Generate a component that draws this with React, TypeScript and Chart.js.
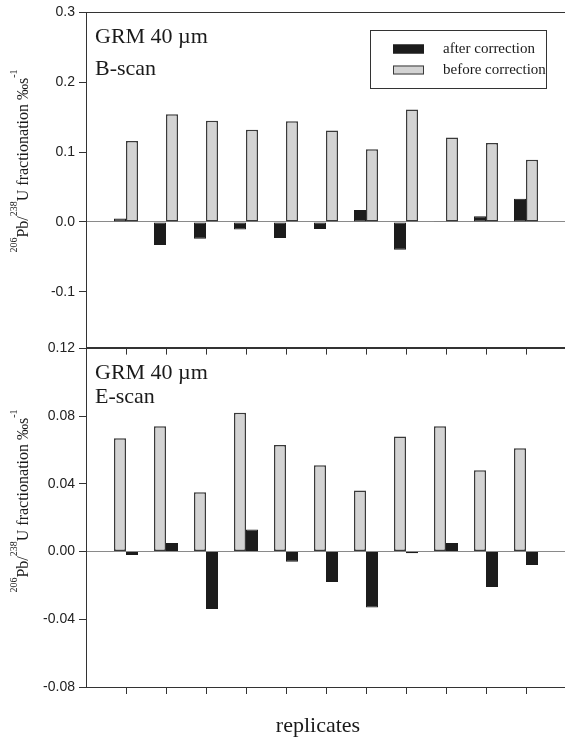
import React, { useEffect, useRef } from "react";
import { Chart, registerables } from "chart.js";

Chart.register(...registerables);

const replicates = [1, 2, 3, 4, 5, 6, 7, 8, 9, 10, 11];
const bScanAfter = [0.005, -0.033, -0.024, -0.011, -0.023, -0.010, 0.017, -0.040, 0.001, 0.008, 0.033];
const bScanBefore = [0.116, 0.154, 0.145, 0.132, 0.144, 0.131, 0.104, 0.161, 0.121, 0.113, 0.089];
const eScanBefore = [0.067, 0.074, 0.035, 0.082, 0.063, 0.051, 0.036, 0.068, 0.074, 0.048, 0.061];
const eScanAfter = [-0.002, 0.005, -0.034, 0.013, -0.006, -0.018, -0.033, -0.001, 0.005, -0.021, -0.008];
const bScanTicks = [-0.1, 0, 0.1, 0.2, 0.3];
const eScanTicks = [-0.08, -0.04, 0, 0.04, 0.08, 0.12];
const seriesLabels = ["after correction", "before correction"];

const SERIF = '"Liberation Serif", "Times New Roman", serif';
const SANS = '"Liberation Sans", Arial, sans-serif';
const BLACK = "#1c1c1c";
const GREY = "#d3d3d3";
const EDGE = "#3a3a3a";

const decorPlugin = {
  id: "decor",
  afterDraw(chart: any, _args: any, opts: any) {
    const ctx = chart.ctx as CanvasRenderingContext2D;
    ctx.save();
    ctx.fillStyle = "#1a1a1a";
    ctx.textBaseline = "alphabetic";
    for (const t of opts.texts || []) {
      ctx.font = t.font;
      ctx.textAlign = t.align || "left";
      ctx.fillText(t.text, t.x, t.y);
    }
    // rotated y title with superscripts
    if (opts.yTitleY != null) {
      const parts = [
        { t: "206", sup: true },
        { t: "Pb/", sup: false },
        { t: "238", sup: true },
        { t: "U fractionation \u2030s", sup: false },
        { t: "-1", sup: true },
      ];
      const mainFont = `16px ${SERIF}`;
      const supFont = `10px ${SERIF}`;
      let total = 0;
      const widths = parts.map((p) => {
        ctx.font = p.sup ? supFont : mainFont;
        const w = ctx.measureText(p.t).width;
        total += w;
        return w;
      });
      ctx.save();
      ctx.translate(28, opts.yTitleY);
      ctx.rotate(-Math.PI / 2);
      ctx.textAlign = "left";
      let x = -total / 2;
      parts.forEach((p, i) => {
        ctx.font = p.sup ? supFont : mainFont;
        ctx.fillText(p.t, x, p.sup ? -11 : 0);
        x += widths[i];
      });
      ctx.restore();
    }
    if (opts.legend) {
      const ds = chart.data.datasets;
      ctx.strokeStyle = "#333";
      ctx.lineWidth = 1;
      ctx.strokeRect(370.5, 30.5, 176, 58);
      const rows = [49, 70];
      ds.forEach((d: any, i: number) => {
        const cy = rows[i];
        ctx.fillStyle = d.backgroundColor;
        ctx.fillRect(393, cy - 4.5, 31, 9);
        ctx.strokeStyle = d.borderColor;
        ctx.strokeRect(393.5, cy - 4, 30, 8);
        ctx.fillStyle = "#1a1a1a";
        ctx.font = `15px ${SERIF}`;
        ctx.textAlign = "left";
        ctx.textBaseline = "middle";
        ctx.fillText(d.label, 443, cy);
      });
    }
    ctx.restore();
  },
};

function toPoints(arr: number[]) {
  return replicates.map((x, i) => ({ x, y: arr[i] }));
}

function makeDataset(label: string, values: number[], black: boolean) {
  return {
    label,
    data: toPoints(values),
    backgroundColor: black ? BLACK : GREY,
    borderColor: black ? BLACK : EDGE,
    borderWidth: black ? 1 : 1.5,
    borderSkipped: false,
    categoryPercentage: 0.6,
    barPercentage: 1.0,
  };
}

function makeConfig(o: {
  datasets: any[];
  yMin: number;
  yMax: number;
  yTicks: number[];
  decimals: number;
  padTop: number;
  xHeight: number;
  decor: any;
}): any {
  return {
    type: "bar",
    data: { datasets: o.datasets },
    options: {
      animation: false,
      responsive: false,
      maintainAspectRatio: false,
      layout: { padding: { top: o.padTop, left: 0, right: 14, bottom: 0 } },
      plugins: {
        legend: { display: false },
        tooltip: { enabled: false },
        decor: o.decor,
      },
      scales: {
        x: {
          type: "linear",
          min: 0,
          max: 12,
          offset: false,
          afterBuildTicks: (s: any) => {
            s.ticks = replicates.map((v) => ({ value: v }));
          },
          afterFit: (s: any) => {
            s.height = o.xHeight;
          },
          ticks: { display: false },
          grid: {
            offset: false,
            drawOnChartArea: false,
            drawTicks: true,
            tickLength: 7,
            color: "#333",
            lineWidth: 1,
          },
          border: { display: true, color: "#333", width: 1 },
        },
        y: {
          type: "linear",
          min: o.yMin,
          max: o.yMax,
          afterBuildTicks: (s: any) => {
            s.ticks = o.yTicks.map((v) => ({ value: v }));
          },
          afterFit: (s: any) => {
            s.width = 86;
          },
          ticks: {
            callback: (v: any) => Number(v).toFixed(o.decimals),
            font: { family: SANS, size: 14 },
            color: "#222",
            padding: 4,
          },
          grid: {
            drawOnChartArea: true,
            drawTicks: true,
            tickLength: 7,
            color: (c: any) => {
              const v = c.tick ? c.tick.value : null;
              if (v === null) return "rgba(0,0,0,0)";
              if (Math.abs(v) < 1e-9) return "#8a8a8a";
              if (Math.abs(v - o.yMax) < 1e-9) return "#333";
              return "rgba(0,0,0,0)";
            },
            tickColor: "#333",
            lineWidth: 1,
          },
          border: { display: true, color: "#333", width: 1 },
        },
      },
    },
    plugins: [decorPlugin],
  };
}

export default function App() {
  const topRef = useRef<HTMLCanvasElement>(null);
  const botRef = useRef<HTMLCanvasElement>(null);

  useEffect(() => {
    const top = new Chart(
      topRef.current as HTMLCanvasElement,
      makeConfig({
        datasets: [
          makeDataset(seriesLabels[0], bScanAfter, true),
          makeDataset(seriesLabels[1], bScanBefore, false),
        ],
        yMin: -0.18,
        yMax: 0.3,
        yTicks: bScanTicks,
        decimals: 1,
        padTop: 11,
        xHeight: 12,
        decor: {
          texts: [
            { text: "GRM 40 \u00b5m", x: 95, y: 43, font: `22px ${SERIF}` },
            { text: "B-scan", x: 95, y: 75, font: `22px ${SERIF}` },
          ],
          yTitleY: 161,
          legend: true,
        },
      })
    );
    const bottom = new Chart(
      botRef.current as HTMLCanvasElement,
      makeConfig({
        datasets: [
          makeDataset(seriesLabels[1], eScanBefore, false),
          makeDataset(seriesLabels[0], eScanAfter, true),
        ],
        yMin: -0.08,
        yMax: 0.12,
        yTicks: eScanTicks,
        decimals: 2,
        padTop: 12,
        xHeight: 60,
        decor: {
          texts: [
            { text: "GRM 40 \u00b5m", x: 95, y: 43, font: `22px ${SERIF}` },
            { text: "E-scan", x: 95, y: 67, font: `22px ${SERIF}` },
            { text: "replicates", x: 318, y: 396, font: `22px ${SERIF}`, align: "center" },
          ],
          yTitleY: 165,
          legend: false,
        },
      })
    );
    return () => {
      top.destroy();
      bottom.destroy();
    };
  }, []);

  return (
    <div
      style={{
        position: "fixed",
        left: 0,
        top: 0,
        width: 565,
        height: 747,
        overflow: "hidden",
        background: "#fff",
      }}
    >
      <canvas
        ref={topRef}
        width={580}
        height={360}
        style={{ position: "absolute", left: 0, top: 0, width: 580, height: 360, display: "block" }}
      />
      <canvas
        ref={botRef}
        width={580}
        height={411}
        style={{ position: "absolute", left: 0, top: 336, width: 580, height: 411, display: "block" }}
      />
    </div>
  );
}
